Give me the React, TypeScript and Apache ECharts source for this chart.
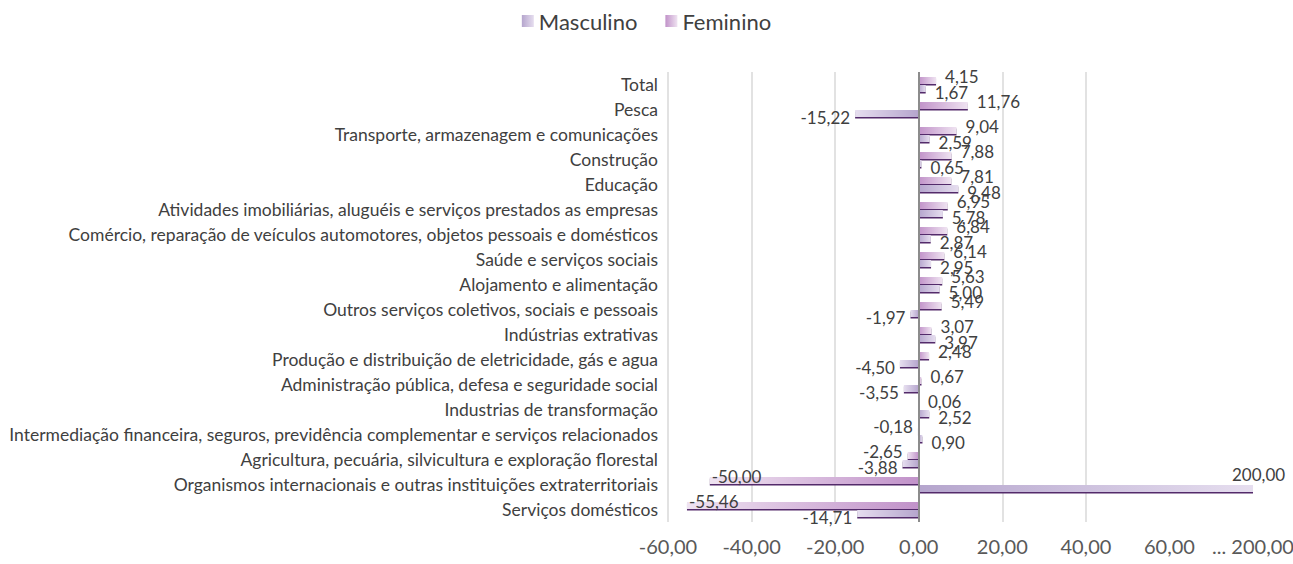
import React, { useEffect, useRef } from 'react';
import * as echarts from 'echarts';

const categories = [
  'Total',
  'Pesca',
  'Transporte, armazenagem e comunicações',
  'Construção',
  'Educação',
  'Atividades imobiliárias, aluguéis e serviços prestados as empresas',
  'Comércio, reparação de veículos automotores, objetos pessoais e domésticos',
  'Saúde e serviços sociais',
  'Alojamento e alimentação',
  'Outros serviços coletivos, sociais e pessoais',
  'Indústrias extrativas',
  'Produção e distribuição de eletricidade, gás e agua',
  'Administração pública, defesa e seguridade social',
  'Industrias de transformação',
  'Intermediação financeira, seguros, previdência complementar e serviços relacionados',
  'Agricultura, pecuária, silvicultura e exploração florestal',
  'Organismos internacionais e outras instituições extraterritoriais',
  'Serviços domésticos',
];

const feminino = [4.15, 11.76, 9.04, 7.88, 7.81, 6.95, 6.84, 6.14, 5.63, 5.49, 3.07, 2.48, 0.67, 0.06, -0.18, -2.65, -50.0, -55.46];
const masculino = [1.67, -15.22, 2.59, 0.65, 9.48, 5.78, 2.87, 2.95, 5.0, -1.97, 3.97, -4.5, -3.55, 2.52, 0.9, -3.88, 200.0, -14.71];

const seriesNames = ['Masculino', 'Feminino'];
const axisMin = -60;
const axisMax = 200;
const axisInterval = 20;
const breakStart = 60;
const breakEnd = 200;

const fmt = (v: number) => v.toFixed(2).replace('.', ',');

const FONT = 'Lato';

function grad(base: string, tip: string, reversed: boolean) {
  return new echarts.graphic.LinearGradient(0, 0, 1, 0, reversed
    ? [{ offset: 0, color: tip }, { offset: 1, color: base }]
    : [{ offset: 0, color: base }, { offset: 1, color: tip }]);
}

function buildData(values: number[], base: string, tip: string, dy: number) {
  return values.map((v) => {
    const item: any = { value: v, itemStyle: { color: grad(base, tip, v < 0) } };
    if (v > breakStart) {
      item.label = { position: 'right', offset: [-26, -14] };
    } else if (v < -40) {
      item.label = { position: 'insideLeft', distance: 2, offset: [0, dy] };
    } else if (v < 0) {
      item.label = { position: 'left', offset: [0, dy] };
    } else {
      item.label = { position: 'right', offset: [4, dy] };
    }
    return item;
  });
}

export default function App() {
  const ref = useRef<HTMLDivElement>(null);
  useEffect(() => {
    document.body.style.margin = '0';
    const chart = echarts.init(ref.current!, undefined, { renderer: 'svg' });
    const femBase = '#c192c9';
    const femTip = '#efe3f1';
    const masBase = '#b5a5cd';
    const masTip = '#e6deef';
    const labelStyle = {
      show: true,
      formatter: (p: any) => fmt(p.value),
      fontFamily: FONT,
      fontSize: 17,
      color: '#404040',
      distance: 5,
    };
    const shadow = { shadowColor: '#52296b', shadowBlur: 0, shadowOffsetY: 1.5, shadowOffsetX: 0 };
    chart.setOption({
      animation: false,
      textStyle: { fontFamily: FONT },
      legend: {
        data: seriesNames,
        top: 5,
        left: 'center',
        icon: 'rect',
        itemWidth: 12,
        itemHeight: 12,
        itemGap: 28,
        textStyle: { fontFamily: FONT, fontSize: 22, color: '#404040' },
        itemStyle: { shadowBlur: 0, shadowOffsetY: 0, shadowColor: 'transparent' },
      },
      grid: { left: 668, right: 40, top: 72, bottom: 42, containLabel: false, outerBoundsMode: 'none' },
      xAxis: {
        type: 'value',
        min: axisMin,
        max: axisMax,
        interval: axisInterval,
        breaks: [{ start: breakStart, end: breakEnd, gap: 20 }],
        breakArea: { show: false },
        axisLine: { show: false },
        axisTick: { show: false },
        splitLine: { show: true, showMaxLine: false, lineStyle: { color: '#d9d9d9', width: 1.5 } },
        axisLabel: {
          fontFamily: FONT,
          fontSize: 20,
          color: '#595959',
          margin: 14,
          formatter: (v: number) => (v > breakStart ? '... ' + fmt(v) : fmt(v)),
        },
      },
      yAxis: {
        type: 'category',
        data: categories,
        inverse: true,
        axisLine: { show: false, onZero: false },
        axisTick: { show: false },
        splitLine: { show: false },
        axisLabel: { fontFamily: FONT, fontSize: 17.5, color: '#404040', margin: 10 },
      },
      series: [
        {
          name: 'Feminino',
          type: 'bar',
          barWidth: 7,
          barGap: '15%',
          itemStyle: { color: grad(femBase, femTip, false), ...shadow },
          label: labelStyle,
          data: buildData(feminino, femBase, femTip, -4),
          markLine: {
            silent: true,
            symbol: 'none',
            label: { show: false },
            lineStyle: { color: '#8c8c8c', width: 2, type: 'solid' },
            data: [{ xAxis: 0 }],
          },
        },
        {
          name: 'Masculino',
          type: 'bar',
          barWidth: 7,
          barGap: '15%',
          itemStyle: { color: grad(masBase, masTip, false), ...shadow },
          label: labelStyle,
          data: buildData(masculino, masBase, masTip, 4),
        },
      ],
    });
    return () => chart.dispose();
  }, []);
  return <div ref={ref} style={{ width: 1293, height: 564 }} />;
}
